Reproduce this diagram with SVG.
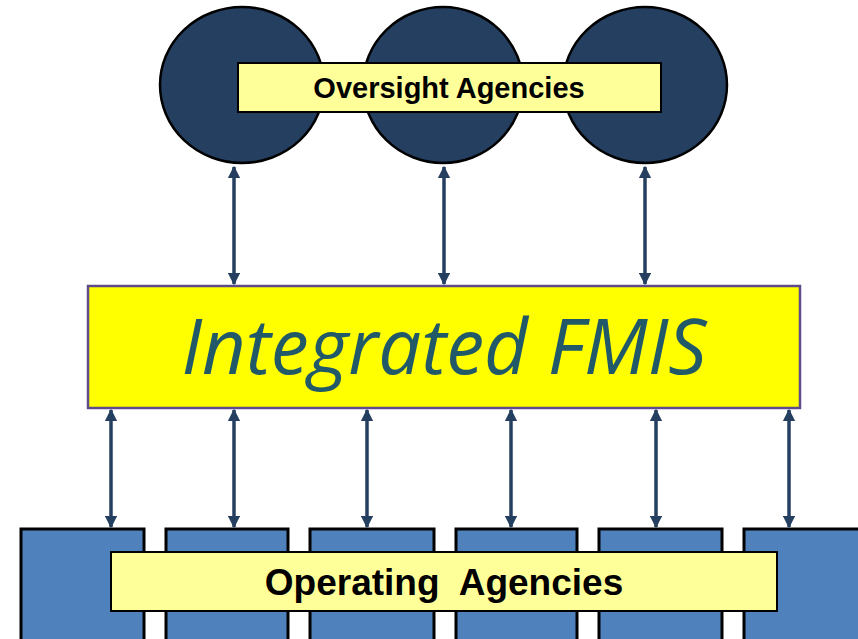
<svg xmlns="http://www.w3.org/2000/svg" width="858" height="639" viewBox="0 0 858 639">
<defs>
<marker id="ah" viewBox="0 0 10 10" refX="9" refY="5" markerWidth="3.6" markerHeight="3.6" orient="auto-start-reverse" markerUnits="strokeWidth">
<path d="M0,0 L10,5 L0,10 z" fill="#243f60"/>
</marker>
<style>
.circ{fill:#243f60;stroke:#000;stroke-width:2.5}
.op{fill:#4f81bd;stroke:#000;stroke-width:3}
.lbl{fill:#ffff99;stroke:#000;stroke-width:2}
.lt{font-family:"Liberation Sans",Arial,sans-serif;font-weight:bold;fill:#000;text-anchor:middle}
.conn{stroke:#243f60;stroke-width:3.5;fill:none;marker-start:url(#ah);marker-end:url(#ah)}
</style>
</defs>
<rect width="858" height="639" fill="#fff"/>
<g id="oversight">
<ellipse class="circ" cx="242" cy="85" rx="82" ry="78"/>
<ellipse class="circ" cx="443" cy="85" rx="80" ry="78"/>
<ellipse class="circ" cx="645" cy="85" rx="82" ry="78"/>
<rect class="lbl" x="238" y="63" width="423" height="49"/>
<text class="lt" x="449" y="98" font-size="29">Oversight Agencies</text>
</g>
<g id="fmis">
<rect x="88" y="286" width="712" height="122" fill="#ffff00" stroke="#5f4b8b" stroke-width="2.5"/>
<text x="444" y="374" font-family="'Open Sans','Noto Sans',sans-serif" font-style="italic" font-size="76" fill="#215968" text-anchor="middle">Integrated FMIS</text>
</g>
<g id="operating">
<rect class="op" x="21" y="529" width="123" height="120"/>
<rect class="op" x="166" y="529" width="122" height="120"/>
<rect class="op" x="310" y="529" width="124" height="120"/>
<rect class="op" x="456" y="529" width="121" height="120"/>
<rect class="op" x="599" y="529" width="123" height="120"/>
<rect class="op" x="744" y="529" width="130" height="120"/>
<rect class="lbl" x="111" y="552" width="666" height="59"/>
<text class="lt" x="444" y="595" font-size="37" xml:space="preserve">Operating  Agencies</text>
</g>
<g id="connectors">
<line class="conn" x1="234" y1="167" x2="234" y2="284"/>
<line class="conn" x1="444" y1="167" x2="444" y2="284"/>
<line class="conn" x1="645" y1="167" x2="645" y2="284"/>
<line class="conn" x1="111" y1="410" x2="111" y2="527"/>
<line class="conn" x1="234" y1="410" x2="234" y2="527"/>
<line class="conn" x1="367" y1="410" x2="367" y2="527"/>
<line class="conn" x1="511" y1="410" x2="511" y2="527"/>
<line class="conn" x1="656" y1="410" x2="656" y2="527"/>
<line class="conn" x1="789" y1="410" x2="789" y2="527"/>
</g>
</svg>
